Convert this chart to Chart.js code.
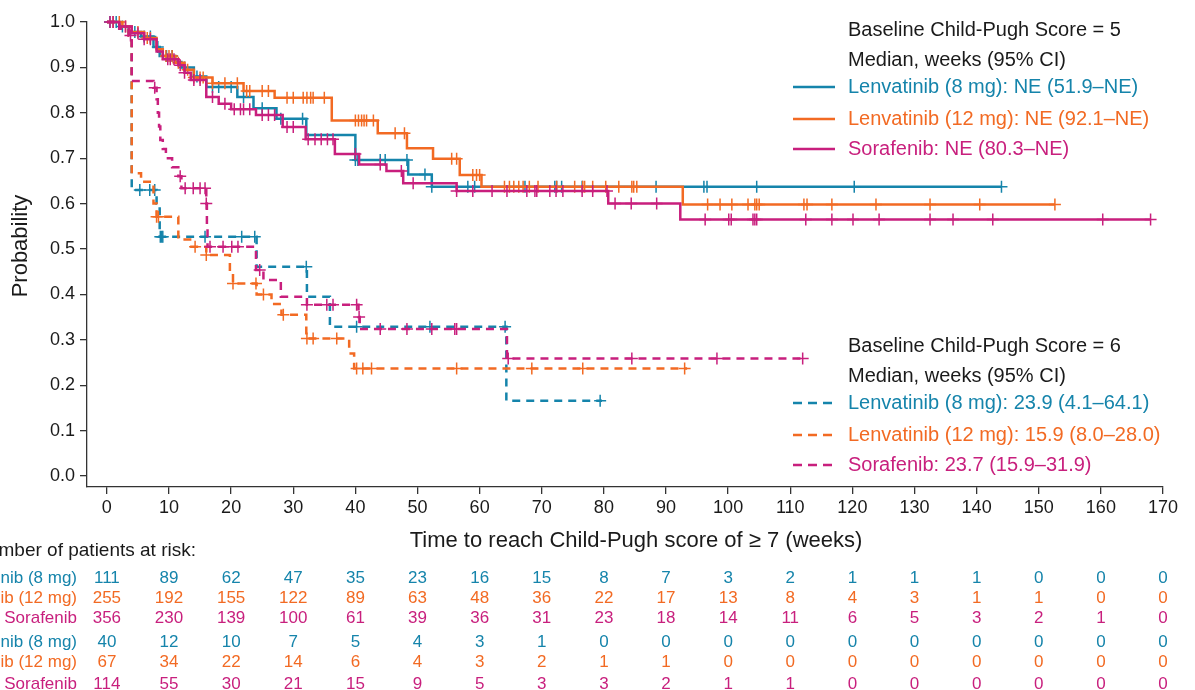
<!DOCTYPE html>
<html>
<head>
<meta charset="utf-8">
<script src="https://cdn.jsdelivr.net/npm/chart.js@4.4.1/dist/chart.umd.min.js"></script>
<style>
  html, body { margin: 0; padding: 0; background: #fff; }
</style>
</head>
<body>
<canvas id="km" width="1195" height="690"></canvas>
<script>
const xTicks = [0, 10, 20, 30, 40, 50, 60, 70, 80, 90, 100, 110, 120, 130, 140, 150, 160, 170];
const yTicks = [0, 0.1, 0.2, 0.3, 0.4, 0.5, 0.6, 0.7, 0.8, 0.9, 1.0];

// Child-Pugh 5 at baseline: [week, probability] after each drop
const l8cp5 = [[0,1],[2,0.99],[3.5,0.978],[5.5,0.968],[7.5,0.945],[8.5,0.925],[11,0.912],[12,0.9],[14,0.88],[16,0.857],[21,0.835],[23.6,0.81],[27.3,0.787],[32.1,0.751],[40,0.696],[48.5,0.664],[52.3,0.637],[144,0.637]];
const l12cp5 = [[0,1],[2.5,0.99],[4,0.978],[6,0.965],[8,0.94],[9,0.925],[11,0.91],[12.5,0.895],[14,0.878],[17,0.865],[22,0.848],[27,0.833],[36.2,0.783],[43.6,0.755],[48.3,0.722],[52.5,0.699],[56.8,0.663],[60.3,0.637],[92.7,0.598],[152.6,0.598]];
const sorcp5 = [[0,1],[2,0.99],[4,0.975],[6,0.962],[8,0.935],[9,0.918],[11.5,0.905],[12.5,0.888],[13.5,0.872],[16,0.835],[18,0.82],[20,0.808],[24,0.795],[28.3,0.769],[32,0.742],[36.7,0.709],[40.6,0.686],[45,0.672],[47.7,0.645],[56.3,0.628],[80.7,0.6],[92.3,0.565],[168,0.565]];

// Child-Pugh 6 at baseline
const l8cp6 = [[0,1],[2,0.985],[3.5,0.975],[4,0.63],[8,0.6],[8.5,0.527],[24.1,0.461],[32.2,0.395],[35.9,0.329],[64.3,0.166],[79.7,0.166]];
const l12cp6 = [[0,1],[2,0.985],[3.5,0.97],[4,0.667],[5.5,0.648],[7.5,0.6],[8,0.571],[11.5,0.521],[13.4,0.505],[16,0.487],[19.8,0.446],[20.3,0.424],[24.1,0.4],[26.5,0.379],[28.1,0.355],[32.1,0.303],[39,0.27],[39.8,0.237],[93.4,0.237]];
const sorcp6 = [[0,1],[2,0.985],[3.5,0.97],[4,0.87],[7.5,0.855],[8,0.83],[8.2,0.8],[8.4,0.77],[8.6,0.74],[9,0.72],[9.5,0.7],[10.5,0.68],[11.5,0.66],[12,0.634],[16,0.6],[16.1,0.55],[16.2,0.505],[24,0.454],[25.2,0.432],[28,0.395],[32.2,0.377],[40.5,0.35],[40.7,0.324],[64.4,0.259],[112,0.259]];

// censoring times (weeks)
const l8cp5Cens = [0.5,1.5,2.5,4.5,6,7,8.2,9.6,10.5,12.5,14.5,17,18,20,22,25,28,31.5,40,40.4,44,44.8,48.3,51.2,52.3,58.1,59.2,67.3,72.1,72.4,73.2,76.5,88.4,96.1,96.6,104.6,120.3,144];
const l12cp5Cens = [1,2,3,5,6.5,7,9.5,10,10.5,11.5,13,14,15,15.5,17,19,21,22.5,23,25,26,29,30,31.6,32.2,32.8,33.2,35,40,40.5,41,41.4,41.8,42.9,46.4,47.9,55.5,56.3,58.9,59.5,60,64,64.8,65.5,66.3,67,68,69.4,72.4,75.3,76.6,76.9,78.2,80.3,82.4,84.5,84.8,85.3,96.7,98.7,100.6,103.2,104.3,104.6,105,112.2,112.7,116.7,123.8,132.5,140.5,152.6];
const sorcp5Cens = [0.5,1,3,5,6,7,9.8,10.2,10.8,11.8,12.5,14,15,17,19,20.5,21.5,22,23,25,26,27,29,30,32.4,33.5,34.5,35.5,36.4,40,44,47.4,49.3,56.3,58.9,62,64.4,67.6,68.9,69.2,71.3,72.3,73.4,76.5,78.2,80.5,81.8,84.4,88.5,96.3,100.1,100.5,104,104.3,104.6,112.5,116.7,120.1,124.3,132.5,136.2,142.6,160.3,168];
const l8cp6Cens = [5.3,6.9,7.7,8.6,8.8,9,15.8,21.7,23.8,32.1,40.2,52,64.1,79.4];
const l12cp6Cens = [8,8.3,14.2,16,20.3,24,25.2,28.4,32.2,33.2,37,40.2,41.2,42.6,56.3,68.4,76.6,93];
const sorcp6Cens = [3.8,7.7,11.8,12.6,13.9,15,15.8,16,16.6,18.7,20.1,21.1,24.6,32.2,35.4,36.4,40.2,40.6,44,48.3,52.3,56,56.3,64.6,84.5,98.2,112];

// numbers at risk
const riskTimes = xTicks;
const riskL8cp5 = [111,89,62,47,35,23,16,15,8,7,3,2,1,1,1,0,0,0];
const riskL12cp5 = [255,192,155,122,89,63,48,36,22,17,13,8,4,3,1,1,0,0];
const riskSorcp5 = [356,230,139,100,61,39,36,31,23,18,14,11,6,5,3,2,1,0];
const riskL8cp6 = [40,12,10,7,5,4,3,1,0,0,0,0,0,0,0,0,0,0];
const riskL12cp6 = [67,34,22,14,6,4,3,2,1,1,0,0,0,0,0,0,0,0];
const riskSorcp6 = [114,55,30,21,15,9,5,3,3,2,1,1,0,0,0,0,0,0];
const armLabels = ['Lenvatinib (8 mg)', 'Lenvatinib (12 mg)', 'Sorafenib'];

const legend5 = ['Lenvatinib (8 mg): NE (51.9\u2013NE)', 'Lenvatinib (12 mg): NE (92.1\u2013NE)', 'Sorafenib: NE (80.3\u2013NE)'];
const legend6 = ['Lenvatinib (8 mg): 23.9 (4.1\u201364.1)', 'Lenvatinib (12 mg): 15.9 (8.0\u201328.0)', 'Sorafenib: 23.7 (15.9\u201331.9)'];

const BLUE = '#1584ab';
const ORANGE = '#f26a23';
const MAGENTA = '#c81f7d';
const colors = [BLUE, ORANGE, MAGENTA];
const FONT = '"Liberation Sans", Arial, sans-serif';
const DASH = [8, 6];

function survAt(curve, t) {
  let s = curve[0][1];
  for (const [tt, v] of curve) { if (tt <= t) s = v; else break; }
  return s;
}

function stepSet(curve, color, dashed) {
  return {
    data: curve.map(([x, y]) => ({ x, y })),
    borderColor: color, borderWidth: 2.5, borderDash: dashed ? DASH : [],
    stepped: 'before', pointRadius: 0, clip: false, tension: 0
  };
}

function censSet(curve, times, color) {
  return {
    data: times.map(t => ({ x: t, y: survAt(curve, t) })),
    showLine: false, borderColor: color, pointBorderColor: color,
    pointStyle: 'cross', pointRadius: 6, pointBorderWidth: 1.5, clip: false
  };
}

const datasets = [
  censSet(sorcp5, sorcp5Cens, MAGENTA), stepSet(sorcp5, MAGENTA, false),
  censSet(sorcp6, sorcp6Cens, MAGENTA), stepSet(sorcp6, MAGENTA, true),
  censSet(l12cp5, l12cp5Cens, ORANGE), stepSet(l12cp5, ORANGE, false),
  censSet(l12cp6, l12cp6Cens, ORANGE), stepSet(l12cp6, ORANGE, true),
  censSet(l8cp5, l8cp5Cens, BLUE), stepSet(l8cp5, BLUE, false),
  censSet(l8cp6, l8cp6Cens, BLUE), stepSet(l8cp6, BLUE, true)
];

const decor = {
  id: 'decor',
  afterDraw(chart) {
    const { ctx, scales: { x } } = chart;
    ctx.save();
    ctx.fillStyle = '#1a1a1a';
    ctx.textBaseline = 'middle';

    // axis titles
    ctx.font = '22px ' + FONT;
    ctx.textAlign = 'center';
    ctx.fillText('Time to reach Child-Pugh score of \u2265 7 (weeks)', 636, 541);
    ctx.save();
    ctx.translate(21, 246);
    ctx.rotate(-Math.PI / 2);
    ctx.fillText('Probability', 0, 0);
    ctx.restore();

    // legends
    const drawLegend = (top, score, texts, dashed) => {
      ctx.font = '20px ' + FONT;
      ctx.textAlign = 'left';
      ctx.fillStyle = '#1a1a1a';
      ctx.fillText('Baseline Child-Pugh Score = ' + score, 848, top);
      ctx.fillText('Median, weeks (95% CI)', 848, top + 30);
      const rows = [top + 57, top + 89, top + 119];
      texts.forEach((txt, i) => {
        ctx.strokeStyle = colors[i];
        ctx.lineWidth = 2.5;
        ctx.setLineDash(dashed ? [9, 6] : []);
        ctx.beginPath(); ctx.moveTo(793, rows[i]); ctx.lineTo(835, rows[i]); ctx.stroke();
        ctx.fillStyle = colors[i];
        ctx.fillText(txt, 848, rows[i]);
      });
      ctx.setLineDash([]);
    };
    drawLegend(30, 5, legend5, false);
    drawLegend(346, 6, legend6, true);

    // numbers at risk
    ctx.fillStyle = '#1a1a1a';
    ctx.font = '19px ' + FONT;
    ctx.textAlign = 'right';
    ctx.fillText('Number of patients at risk:', 196, 551);
    const rowsY = [578, 598, 618, 642, 662, 684];
    const risk = [riskL8cp5, riskL12cp5, riskSorcp5, riskL8cp6, riskL12cp6, riskSorcp6];
    ctx.font = '17px ' + FONT;
    risk.forEach((vals, r) => {
      ctx.fillStyle = colors[r % 3];
      ctx.textAlign = 'right';
      ctx.fillText(armLabels[r % 3], 77, rowsY[r]);
      ctx.textAlign = 'center';
      vals.forEach((v, j) => ctx.fillText(String(v), x.getPixelForValue(riskTimes[j]), rowsY[r]));
    });
    ctx.restore();
  }
};

new Chart(document.getElementById('km'), {
  type: 'line',
  data: { datasets },
  options: {
    responsive: false,
    animation: false,
    layout: { padding: { top: 22, right: 32, left: 0, bottom: 0 } },
    plugins: { legend: { display: false }, tooltip: { enabled: false } },
    scales: {
      x: {
        type: 'linear', min: -3.2, max: 170,
        afterFit: s => { s.height = 203; },
        afterBuildTicks: s => { s.ticks = xTicks.map(v => ({ value: v })); },
        ticks: { autoSkip: false, maxRotation: 0, padding: 3, color: '#1a1a1a', font: { size: 18, family: FONT } },
        grid: { drawOnChartArea: false, drawTicks: true, tickLength: 7, color: '#333', lineWidth: 1.3 },
        border: { color: '#333', width: 1.3 }
      },
      y: {
        type: 'linear', min: -0.0242, max: 1.0,
        afterFit: s => { s.width = 87; },
        afterBuildTicks: s => { s.ticks = yTicks.map(v => ({ value: v })); },
        ticks: { padding: 5, color: '#1a1a1a', font: { size: 18, family: FONT }, callback: v => v.toFixed(1) },
        grid: { drawOnChartArea: false, drawTicks: true, tickLength: 7, color: '#333', lineWidth: 1.3 },
        border: { color: '#333', width: 1.3 }
      }
    }
  },
  plugins: [decor]
});
</script>
</body>
</html>
